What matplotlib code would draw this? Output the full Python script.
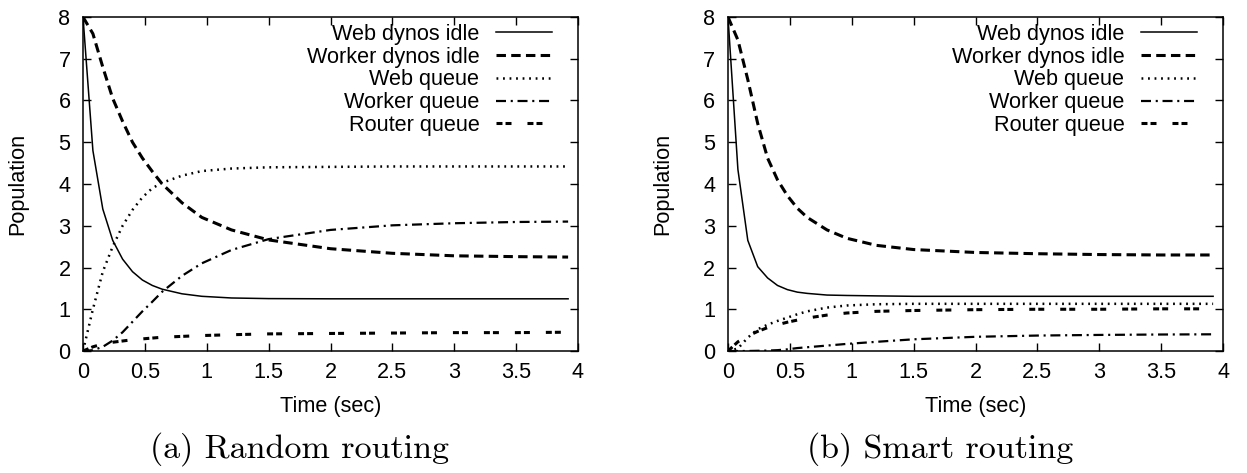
import matplotlib
matplotlib.use("Agg")
from matplotlib import pyplot as plt
from matplotlib.ticker import FormatStrFormatter

plt.rcParams['font.family'] = ['Liberation Sans', 'DejaVu Sans']
plt.rcParams['lines.scale_dashes'] = False

# sample times (sec), same for every series
time = [0, 0.08, 0.16, 0.24, 0.32, 0.4, 0.48, 0.56, 0.64, 0.8, 0.96,
        1.2, 1.5, 2.0, 2.5, 3.0, 3.5, 3.92]

# (a) random routing
rand_web_idle = [8, 4.8, 3.4, 2.65, 2.2, 1.9, 1.7, 1.57, 1.48, 1.37, 1.31,
                 1.27, 1.255, 1.25, 1.25, 1.25, 1.25, 1.25]
rand_worker_idle = [8, 7.6, 6.8, 6.05, 5.5, 5.0, 4.62, 4.3, 4.0, 3.55, 3.2,
                    2.9, 2.66, 2.45, 2.34, 2.28, 2.26, 2.25]
rand_web_queue = [0, 1.0, 1.9, 2.5, 3.0, 3.38, 3.68, 3.9, 4.03, 4.2, 4.31,
                  4.37, 4.4, 4.41, 4.42, 4.42, 4.42, 4.42]
rand_worker_queue = [0, 0.02, 0.1, 0.25, 0.45, 0.7, 0.95, 1.18, 1.42, 1.8, 2.1,
                     2.42, 2.68, 2.9, 3.01, 3.06, 3.09, 3.1]
rand_router_queue = [0, 0.1, 0.17, 0.21, 0.24, 0.27, 0.29, 0.31, 0.33, 0.35, 0.37,
                     0.39, 0.41, 0.42, 0.43, 0.44, 0.44, 0.45]

# (b) smart routing
smart_web_idle = [8, 4.35, 2.65, 2.02, 1.75, 1.57, 1.47, 1.41, 1.38, 1.34, 1.33,
                  1.32, 1.31, 1.31, 1.31, 1.31, 1.31, 1.31]
smart_worker_idle = [8, 7.45, 6.5, 5.45, 4.62, 4.1, 3.72, 3.42, 3.2, 2.9, 2.7,
                     2.53, 2.43, 2.36, 2.33, 2.31, 2.3, 2.3]
smart_web_queue = [0, 0.06, 0.32, 0.52, 0.63, 0.72, 0.8, 0.88, 0.95, 1.04, 1.09,
                   1.12, 1.13, 1.13, 1.13, 1.13, 1.13, 1.13]
smart_worker_queue = [0, 0, 0, 0.005, 0.01, 0.02, 0.04, 0.07, 0.09, 0.13, 0.17,
                      0.22, 0.28, 0.34, 0.37, 0.385, 0.395, 0.4]
smart_router_queue = [0, 0.22, 0.36, 0.47, 0.56, 0.63, 0.69, 0.74, 0.79, 0.86, 0.91,
                      0.95, 0.97, 0.99, 1.0, 1.0, 1.01, 1.01]

labels = ["Web dynos idle", "Worker dynos idle", "Web queue",
          "Worker queue", "Router queue"]
xticks = [0, 0.5, 1, 1.5, 2, 2.5, 3, 3.5, 4]
yticks = [0, 1, 2, 3, 4, 5, 6, 7, 8]

#gnuplot-ish line styles
styles = [
    dict(lw=1.1, ls='-'),
    dict(lw=2.2, ls=(0, (6.8, 3.8))),
    dict(lw=1.8, ls=(0, (1.3, 3.4))),
    dict(lw=1.6, ls=(0, (7.2, 3.4, 1.5, 3.4))),
    dict(lw=2.2, ls=(0, (4.3, 2.2, 4.3, 11.5))),
]

fs = 15.6
fig = plt.figure(figsize=(12.47, 4.73), dpi=100)
W, H = 1247, 473

def make_panel(left_px, right_px, series, caption, cap_x):
    ax = fig.add_axes([left_px / W, (H - 351) / H, (right_px - left_px) / W, (351 - 17) / H])
    for vals, lab, st in zip(series, labels, styles):
        ax.plot(time, vals, color='black', label=lab, **st)
    ax.set_xlim(0, 4)
    ax.set_ylim(0, 8)
    ax.set_xticks(xticks)
    ax.set_yticks(yticks)
    ax.xaxis.set_major_formatter(FormatStrFormatter('%g'))
    ax.tick_params(direction='in', length=6, width=1, top=True, right=True, labelsize=fs)
    ax.tick_params(axis='y', pad=9)
    ax.tick_params(axis='x', pad=8)
    for sp in ax.spines.values():
        sp.set_linewidth(1.1)
    ax.set_xlabel("Time (sec)", fontsize=fs, labelpad=9)
    ax.set_ylabel("Population", fontsize=fs, labelpad=22)
    ax.legend(loc='upper right', bbox_to_anchor=(1 - 26 / (right_px - left_px), 1 - 7 / 334),
              frameon=False, markerfirst=False, fontsize=fs, handlelength=2.6,
              handletextpad=0.75, labelspacing=0.08, borderpad=0, borderaxespad=0)
    fig.text(cap_x / W, 1 - 458 / H, caption, fontsize=24.5, family='cmr10',
             ha='center', va='baseline')
    return ax

make_panel(83, 578, [rand_web_idle, rand_worker_idle, rand_web_queue,
                     rand_worker_queue, rand_router_queue], "(a) Random routing", 299)
make_panel(728, 1223, [smart_web_idle, smart_worker_idle, smart_web_queue,
                       smart_worker_queue, smart_router_queue], "(b) Smart routing", 940)

plt.savefig("out.png", dpi=100)
